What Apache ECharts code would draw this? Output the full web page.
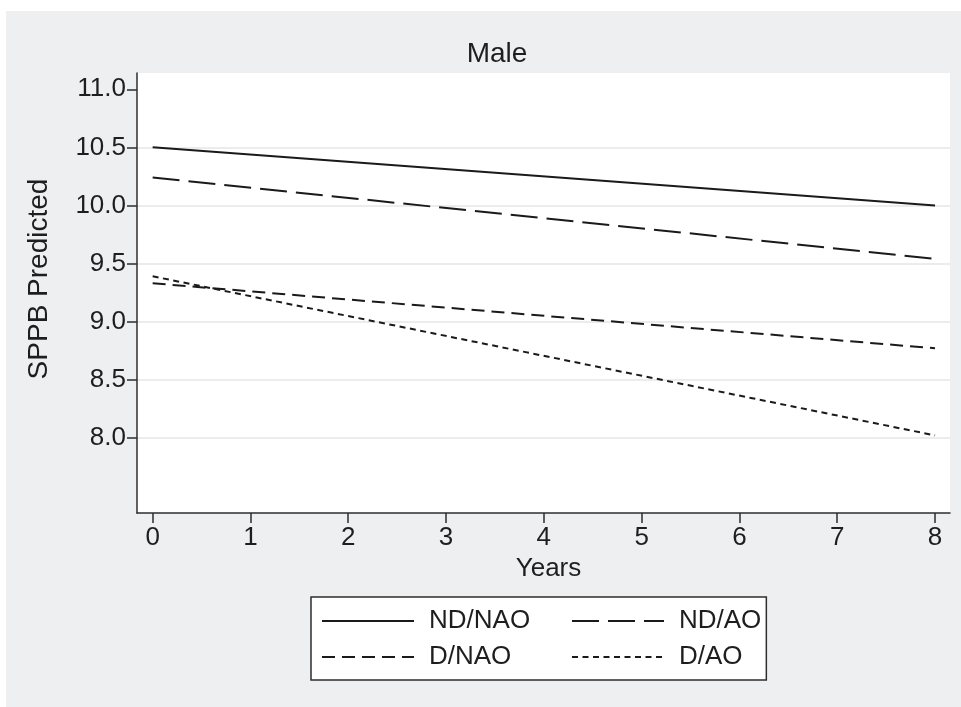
<!DOCTYPE html>
<html>
<head>
<meta charset="utf-8">
<script src="https://cdn.jsdelivr.net/npm/echarts@6/dist/echarts.min.js"></script>
<style>
html,body{margin:0;padding:0;background:#ffffff;}
#bg{position:absolute;left:6px;top:11px;width:955px;height:696px;background:#eeeff1;}
#chart{position:absolute;left:0;top:0;width:961px;height:707px;}
</style>
</head>
<body>
<div id="bg"></div>
<div id="chart"></div>
<script>
var years = [0, 8];
var ndNao = [10.50, 10.00];
var ndAo = [10.24, 9.54];
var dNao = [9.33, 8.77];
var dAo = [9.39, 8.02];
var seriesNames = ['ND/NAO', 'ND/AO', 'D/NAO', 'D/AO'];
var xTicks = [0, 1, 2, 3, 4, 5, 6, 7, 8];
var yTicks = [8.0, 8.5, 9.0, 9.5, 10.0, 10.5, 11.0];
var titleText = 'Male';
var xTitle = 'Years';
var yTitle = 'SPPB Predicted';

function pairs(vals) { return years.map(function (y, i) { return [y, vals[i]]; }); }

var FONT = "'Liberation Sans', Arial, sans-serif";
var TXT = '#1e1e1e';
var AX = '#2e2e2e';
var LINE = '#1a1a1a';
var col1 = ['ND/NAO', 'D/NAO'];

var chart = echarts.init(document.getElementById('chart'), null, {renderer: 'canvas'});
chart.setOption({
  backgroundColor: 'transparent',
  animation: false,
  title: {
    text: titleText, left: 492, top: 35, textAlign: 'center',
    textStyle: {fontFamily: FONT, fontSize: 28, fontWeight: 'normal', color: TXT}
  },
  grid: {
    left: 137, top: 73, width: 813, height: 440,
    show: true, backgroundColor: '#ffffff', borderWidth: 0
  },
  xAxis: {
    type: 'value', min: -0.16, max: 8.153,
    name: xTitle, nameLocation: 'middle', nameGap: 40,
    nameTextStyle: {fontFamily: FONT, fontSize: 26, color: TXT, padding: [0, 0, 0, 10]},
    axisLine: {show: true, onZero: false, lineStyle: {color: AX, width: 1.5}},
    axisTick: {show: true, length: 10, lineStyle: {color: AX, width: 1.5}, customValues: xTicks},
    axisLabel: {fontFamily: FONT, fontSize: 26, color: TXT, margin: 12, customValues: xTicks},
    splitLine: {show: false}
  },
  yAxis: {
    type: 'value', min: 7.352, max: 11.14,
    name: yTitle, nameLocation: 'middle', nameGap: 84, nameRotate: 90,
    nameTextStyle: {fontFamily: FONT, fontSize: 28, color: TXT, padding: [0, 0, 0, 28]},
    axisLine: {show: true, onZero: false, lineStyle: {color: AX, width: 1.5}},
    axisTick: {show: true, length: 10, lineStyle: {color: AX, width: 1.5}, customValues: yTicks},
    axisLabel: {fontFamily: FONT, fontSize: 26, color: TXT, margin: 11, customValues: yTicks,
      formatter: function (v) { return v.toFixed(1); }},
    splitLine: {show: true, lineStyle: {color: ['#e6e6e6', '#e6e6e6', '#e6e6e6', '#e6e6e6', '#e6e6e6', '#e6e6e6', 'rgba(0,0,0,0)'], width: 1.5}}
  },
  legend: {
    left: 311, top: 597, width: 460,
    orient: 'horizontal', itemGap: 8,
    itemWidth: 92, itemHeight: 14,
    padding: [10, 5, 9, 10],
    backgroundColor: '#ffffff', borderColor: '#2e2e2e', borderWidth: 1.5, borderRadius: 0,
    itemStyle: {color: 'rgba(0,0,0,0)', borderWidth: 0, opacity: 0},
    data: seriesNames,
    formatter: function (name) {
      return (col1.indexOf(name) >= 0 ? '{a|' : '{b|') + name + '}';
    },
    textStyle: {
      fontFamily: FONT, fontSize: 26, color: TXT, lineHeight: 28, padding: [0, 0, 0, 10],
      rich: {
        a: {fontFamily: FONT, fontSize: 26, color: TXT, lineHeight: 28, width: 134},
        b: {fontFamily: FONT, fontSize: 26, color: TXT, lineHeight: 28}
      }
    }
  },
  series: [
    {name: seriesNames[0], type: 'line', data: pairs(ndNao), symbol: 'none',
      lineStyle: {color: LINE, width: 2, type: 'solid'}, itemStyle: {color: LINE}},
    {name: seriesNames[1], type: 'line', data: pairs(ndAo), symbol: 'none',
      lineStyle: {color: LINE, width: 2, type: [27, 9]}, itemStyle: {color: LINE}},
    {name: seriesNames[2], type: 'line', data: pairs(dNao), symbol: 'none',
      lineStyle: {color: LINE, width: 2, type: [13, 7]}, itemStyle: {color: LINE}},
    {name: seriesNames[3], type: 'line', data: pairs(dAo), symbol: 'none',
      lineStyle: {color: LINE, width: 2, type: [6, 4.5]}, itemStyle: {color: LINE}}
  ]
});
</script>
</body>
</html>
